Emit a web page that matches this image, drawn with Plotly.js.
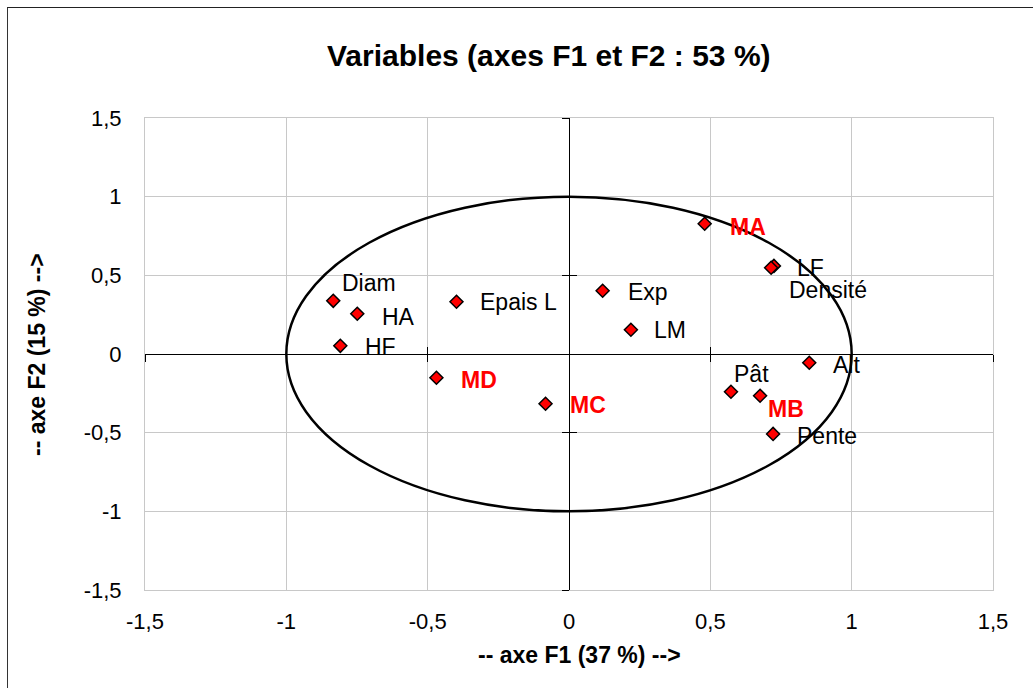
<!DOCTYPE html>
<html>
<head>
<meta charset="utf-8">
<script src="https://cdn.plot.ly/plotly-3.0.1.min.js"></script>
<style>
  html, body { margin: 0; padding: 0; background: #fff; }
  #wrap { position: relative; width: 1033px; height: 688px; overflow: hidden; }
  #chart { position: absolute; left: 0; top: 0; width: 1033px; height: 688px; }
  #frame { position: absolute; left: 7px; top: 7px; width: 1100px; height: 800px;
           border-left: 1.5px solid #333; border-top: 1.5px solid #222; pointer-events: none; }
</style>
</head>
<body>
<div id="wrap"><div id="chart"></div><div id="frame"></div></div>
<script>
// Active variables (F1, F2 coordinates)
const varNames = ["Diam", "HA", "HF", "Epais L", "Exp", "LM", "LF", "Densité", "Alt", "Pât", "Pente"];
const varF1 = [-0.834, -0.749, -0.809, -0.398, 0.119, 0.219, 0.725, 0.715, 0.850, 0.573, 0.722];
const varF2 = [0.338, 0.256, 0.052, 0.332, 0.402, 0.154, 0.560, 0.548, -0.056, -0.240, -0.508];

// Supplementary variables
const supNames = ["MA", "MB", "MC", "MD"];
const supF1 = [0.480, 0.676, -0.083, -0.469];
const supF2 = [0.828, -0.265, -0.316, -0.151];

// Axis ticks
const tickVals = [-1.5, -1, -0.5, 0, 0.5, 1, 1.5];
const tickText = ["-1,5", "-1", "-0,5", "0", "0,5", "1", "1,5"];

// Label offsets (pixels: right, down) — layout only
const varLabelDx = [7, 23, 23, 21, 23, 21, 21, 16, 22, 1, 22];
const varLabelDy = [-18, 3, 1, 0, 1, 0, 2, 22, 2, -18, 2];
const supLabelDx = [23, 6, 22, 23];
const supLabelDy = [3, 13, 1, 2];

const FONT = "Arial, 'Liberation Sans', sans-serif";

const markerStyle = { symbol: "diamond", size: 10, color: "#ff0000", line: { color: "#000", width: 1.5 } };

const traces = [
  { type: "scatter", mode: "markers", x: varF1, y: varF2, marker: markerStyle, hoverinfo: "skip", showlegend: false },
  { type: "scatter", mode: "markers", x: supF1, y: supF2, marker: markerStyle, hoverinfo: "skip", showlegend: false },
  { type: "scatter", mode: "markers", x: [], y: [], xaxis: "x2", yaxis: "y2", hoverinfo: "skip", showlegend: false },
  { type: "scatter", mode: "markers", x: [], y: [], xaxis: "x3", yaxis: "y3", hoverinfo: "skip", showlegend: false }
];

const annotations = [];
varNames.forEach((n, i) => annotations.push({
  x: varF1[i], y: varF2[i], xref: "x", yref: "y", text: n, showarrow: false,
  xanchor: "left", yanchor: "middle", xshift: varLabelDx[i], yshift: -varLabelDy[i],
  font: { family: FONT, size: 23, color: "#000" }
}));
supNames.forEach((n, i) => annotations.push({
  x: supF1[i], y: supF2[i], xref: "x", yref: "y", text: "<b>" + n + "</b>", showarrow: false,
  xanchor: "left", yanchor: "middle", xshift: supLabelDx[i], yshift: -supLabelDy[i],
  font: { family: FONT, size: 23, color: "#ff0000" }
}));
annotations.push({
  xref: "paper", yref: "paper", x: (549 - 145) / 848, y: 1 + (118 - 55) / 472,
  text: "<b>Variables (axes F1 et F2 : 53 %)</b>", showarrow: false,
  xanchor: "center", yanchor: "middle", font: { family: FONT, size: 30, color: "#000" }
});
annotations.push({
  xref: "paper", yref: "paper", x: (579 - 145) / 848, y: -(655 - 590) / 472,
  text: "<b>-- axe F1 (37 %) --></b>", showarrow: false,
  xanchor: "center", yanchor: "middle", font: { family: FONT, size: 23, color: "#000" }
});
annotations.push({
  xref: "paper", yref: "paper", x: -(145 - 37) / 848, y: 0.5 - (355 - 354) / 472,
  text: "<b>-- axe F2 (15 %) --></b>", showarrow: false, textangle: -90,
  xanchor: "center", yanchor: "middle", font: { family: FONT, size: 23, color: "#000" }
});

const baseAxis = {
  range: [-1.5, 1.5], tickvals: tickVals, ticktext: tickText, showgrid: true,
  gridcolor: "#c8c8c8", gridwidth: 1, zeroline: false, showline: true, linecolor: "#c8c8c8",
  linewidth: 1, mirror: true, ticks: "", fixedrange: true,
  tickfont: { family: FONT, size: 22, color: "#000" }
};
const crossAxis = (ticks) => ({
  range: [-1.5, 1.5], tickvals: tickVals, showgrid: false, zeroline: false, showline: true,
  linecolor: "#000", linewidth: 1, ticks: ticks, ticklen: 7, tickcolor: "#000", tickwidth: 1,
  showticklabels: false, anchor: "free", position: 0.5, fixedrange: true
});

const layout = {
  width: 1033, height: 688,
  margin: { l: 145, r: 40, t: 118, b: 98, pad: 0 },
  paper_bgcolor: "#fff", plot_bgcolor: "#fff",
  showlegend: false,
  xaxis: Object.assign({}, baseAxis, { ticklabelstandoff: 12 }),
  yaxis: Object.assign({}, baseAxis, { ticklabelstandoff: 18 }),
  xaxis2: Object.assign(crossAxis("inside"), { overlaying: "x" }),
  yaxis2: Object.assign(crossAxis("inside"), { overlaying: "y" }),
  xaxis3: Object.assign(crossAxis("outside"), { overlaying: "x" }),
  yaxis3: Object.assign(crossAxis("outside"), { overlaying: "y" }),
  shapes: [
    { type: "circle", xref: "x", yref: "y", x0: -1, x1: 1, y0: -1, y1: 1,
      line: { color: "#000", width: 2.5 }, layer: "above" }
  ],
  annotations: annotations
};

Plotly.newPlot("chart", traces, layout, { staticPlot: true, displayModeBar: false });
</script>
</body>
</html>
